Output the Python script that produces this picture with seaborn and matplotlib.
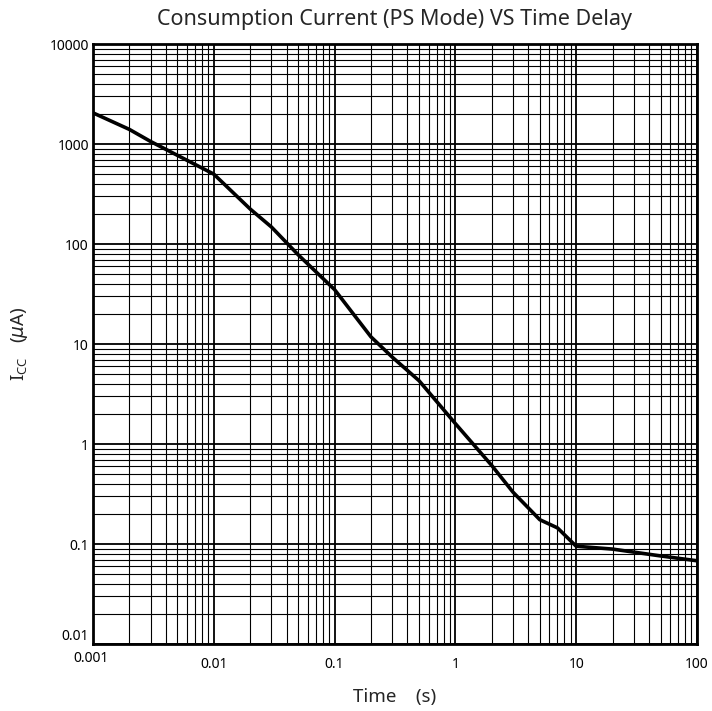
import matplotlib
matplotlib.use("Agg")
import matplotlib.pyplot as plt
import matplotlib.transforms as mtransforms
import seaborn as sns
import pandas as pd
import numpy as np
from matplotlib.ticker import LogLocator, FixedLocator, FixedFormatter, NullFormatter

sns.set_style("white")
plt.rcParams['font.family'] = ['Noto Sans', 'DejaVu Sans']
plt.rcParams['mathtext.fontset'] = 'dejavusans'

# curve
time_s = [0.001, 0.002, 0.003, 0.01, 0.02, 0.03, 0.05, 0.1, 0.2, 0.3, 0.5, 1, 2, 3, 5, 7, 10, 20, 50, 100]
icc_ua = [2050, 1400, 1060, 500, 224, 148, 78, 35, 11.8, 7.4, 4.3, 1.6, 0.61, 0.33, 0.175, 0.145, 0.095, 0.089, 0.076, 0.068]

x_ticks = [0.001, 0.01, 0.1, 1, 10, 100]
x_labels = ["0.001", "0.01", "0.1", "1", "10", "100"]
y_ticks = [0.01, 0.1, 1, 10, 100, 1000, 10000]
y_labels = ["0.01", "0.1", "1", "10", "100", "1000", "10000"]

df = pd.DataFrame({"Time": time_s, "Icc": icc_ua})

fig = plt.figure(figsize=(7.12, 7.11), dpi=100)
ax = fig.add_axes([0.1306, 0.0942, 0.8483, 0.8439])

sns.lineplot(data=df, x="Time", y="Icc", color="black", linewidth=2.6, ax=ax)

ax.set_xscale("log")
ax.set_yscale("log")
ax.set_xlim(0.001, 100)
ax.set_ylim(0.01, 10000)

ax.xaxis.set_major_locator(FixedLocator(x_ticks))
ax.xaxis.set_major_formatter(FixedFormatter(x_labels))
ax.yaxis.set_major_locator(FixedLocator(y_ticks))
ax.yaxis.set_major_formatter(FixedFormatter(y_labels))
ax.xaxis.set_minor_locator(LogLocator(base=10, subs=np.arange(2, 10), numticks=20))
ax.yaxis.set_minor_locator(LogLocator(base=10, subs=np.arange(2, 10), numticks=20))
ax.xaxis.set_minor_formatter(NullFormatter())
ax.yaxis.set_minor_formatter(NullFormatter())

ax.grid(which="major", color="black", linewidth=1.3)
ax.grid(which="minor", color="black", linewidth=0.8)
ax.tick_params(which="both", length=0, labelsize=10, colors="black")
ax.tick_params(axis="x", pad=9)
ax.tick_params(axis="y", pad=3)

for s in ax.spines.values():
    s.set_color("black")
    s.set_linewidth(2)

# corner labels sit a bit apart, as in the original
fig.canvas.draw()
ylab0 = ax.get_yticklabels()[0]
ylab0.set_transform(ylab0.get_transform() + mtransforms.ScaledTranslation(0, 10 / 100, fig.dpi_scale_trans))
xlab0 = ax.get_xticklabels()[0]
xlab0.set_transform(xlab0.get_transform() + mtransforms.ScaledTranslation(-2 / 100, 6 / 100, fig.dpi_scale_trans))

ax.set_title("Consumption Current (PS Mode) VS Time Delay", fontsize=15.5, pad=14)
ax.set_xlabel("Time    (s)", fontsize=13.5, labelpad=12)
ax.set_ylabel("I$_\\mathregular{CC}$   ($\\mu$A)", fontsize=13.5)
ax.yaxis.set_label_coords(-0.104, 0.5)

plt.savefig("out.png", dpi=100)
